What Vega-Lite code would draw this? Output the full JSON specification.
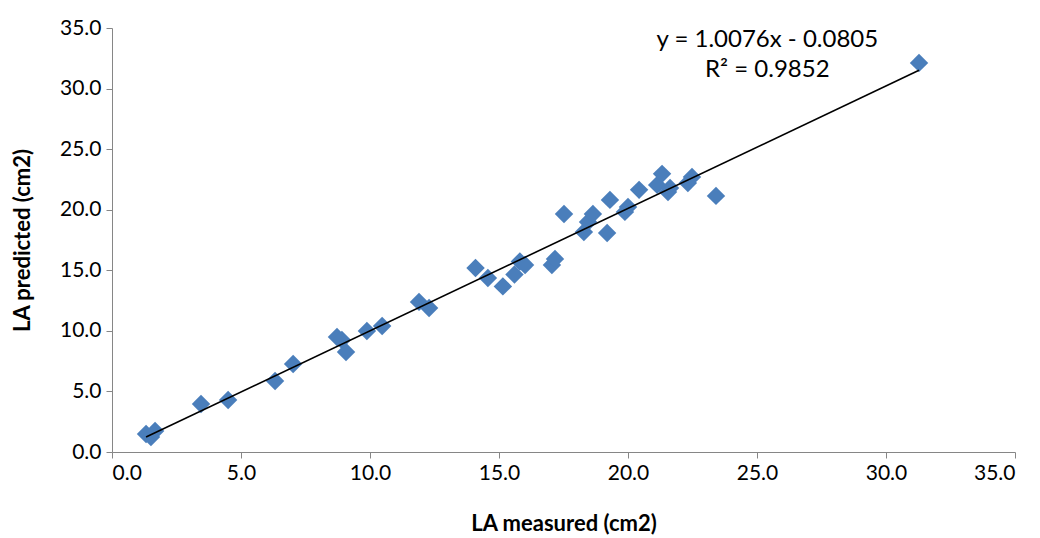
{
  "$schema": "https://vega.github.io/schema/vega-lite/v6.json",
  "width": 903,
  "height": 424,
  "autosize": "none",
  "padding": {"left": 112, "top": 28, "right": 25, "bottom": 86},
  "background": "white",
  "config": {
    "view": {"stroke": null},
    "font": "Lato",
    "axis": {
      "grid": false,
      "domainColor": "#868686",
      "tickColor": "#868686",
      "tickSize": 6,
      "labelFontSize": 21,
      "labelColor": "#000000",
      "titleFontSize": 22,
      "titleFontWeight": "bold",
      "titleColor": "#000000",
      "labelFont": "Lato",
      "titleFont": "Lato"
    }
  },
  "datasets": {
    "points": [
      {"measured": 1.32, "predicted": 1.49},
      {"measured": 1.51, "predicted": 1.24},
      {"measured": 1.67, "predicted": 1.73},
      {"measured": 3.45, "predicted": 3.96},
      {"measured": 4.5, "predicted": 4.29},
      {"measured": 6.32, "predicted": 5.86},
      {"measured": 7.02, "predicted": 7.27},
      {"measured": 8.72, "predicted": 9.5},
      {"measured": 8.91, "predicted": 9.25},
      {"measured": 9.07, "predicted": 8.26},
      {"measured": 9.88, "predicted": 9.99},
      {"measured": 10.47, "predicted": 10.4},
      {"measured": 11.9, "predicted": 12.39},
      {"measured": 12.29, "predicted": 11.89},
      {"measured": 14.09, "predicted": 15.19},
      {"measured": 14.57, "predicted": 14.37},
      {"measured": 15.15, "predicted": 13.67},
      {"measured": 15.6, "predicted": 14.65},
      {"measured": 15.81, "predicted": 15.73},
      {"measured": 16.01, "predicted": 15.44},
      {"measured": 17.05, "predicted": 15.44},
      {"measured": 17.17, "predicted": 15.94},
      {"measured": 17.52, "predicted": 19.65},
      {"measured": 18.29, "predicted": 18.16},
      {"measured": 18.45, "predicted": 18.99},
      {"measured": 18.64, "predicted": 19.65},
      {"measured": 19.19, "predicted": 18.08},
      {"measured": 19.3, "predicted": 20.81},
      {"measured": 19.88, "predicted": 19.82},
      {"measured": 20.0, "predicted": 20.23},
      {"measured": 20.43, "predicted": 21.64},
      {"measured": 21.13, "predicted": 22.05},
      {"measured": 21.32, "predicted": 22.96},
      {"measured": 21.55, "predicted": 21.47},
      {"measured": 21.63, "predicted": 21.8},
      {"measured": 22.32, "predicted": 22.21},
      {"measured": 22.48, "predicted": 22.71},
      {"measured": 23.41, "predicted": 21.14},
      {"measured": 31.28, "predicted": 32.12}
    ],
    "labels": [
      {"measured": 25.4, "predicted": 34.0, "text": "y = 1.0076x - 0.0805"},
      {"measured": 25.4, "predicted": 31.5, "text": "R² = 0.9852"}
    ]
  },
  "layer": [
    {
      "data": {"name": "points"},
      "mark": {"type": "point", "shape": "diamond", "filled": true, "size": 340, "color": "#4A7EBB", "opacity": 1},
      "encoding": {
        "x": {"field": "measured", "type": "quantitative", "scale": {"domain": [0, 35], "nice": false, "zero": true},
          "axis": {"values": [0, 5, 10, 15, 20, 25, 30, 35], "format": ".1f", "title": "LA measured (cm2)", "titlePadding": 30, "labelPadding": 4}},
        "y": {"field": "predicted", "type": "quantitative", "scale": {"domain": [0, 35], "nice": false, "zero": true},
          "axis": {"values": [0, 5, 10, 15, 20, 25, 30, 35], "format": ".1f", "title": "LA predicted (cm2)", "titlePadding": 25, "labelPadding": 5}}
      }
    },
    {
      "data": {"name": "points"},
      "transform": [{"regression": "predicted", "on": "measured"}],
      "mark": {"type": "line", "color": "#000000", "strokeWidth": 1.6},
      "encoding": {
        "x": {"field": "measured", "type": "quantitative"},
        "y": {"field": "predicted", "type": "quantitative"}
      }
    },
    {
      "data": {"name": "labels"},
      "mark": {"type": "text", "fontSize": 24, "font": "Lato", "color": "#000000", "align": "center", "baseline": "middle"},
      "encoding": {
        "x": {"field": "measured", "type": "quantitative"},
        "y": {"field": "predicted", "type": "quantitative"},
        "text": {"field": "text"}
      }
    }
  ]
}
